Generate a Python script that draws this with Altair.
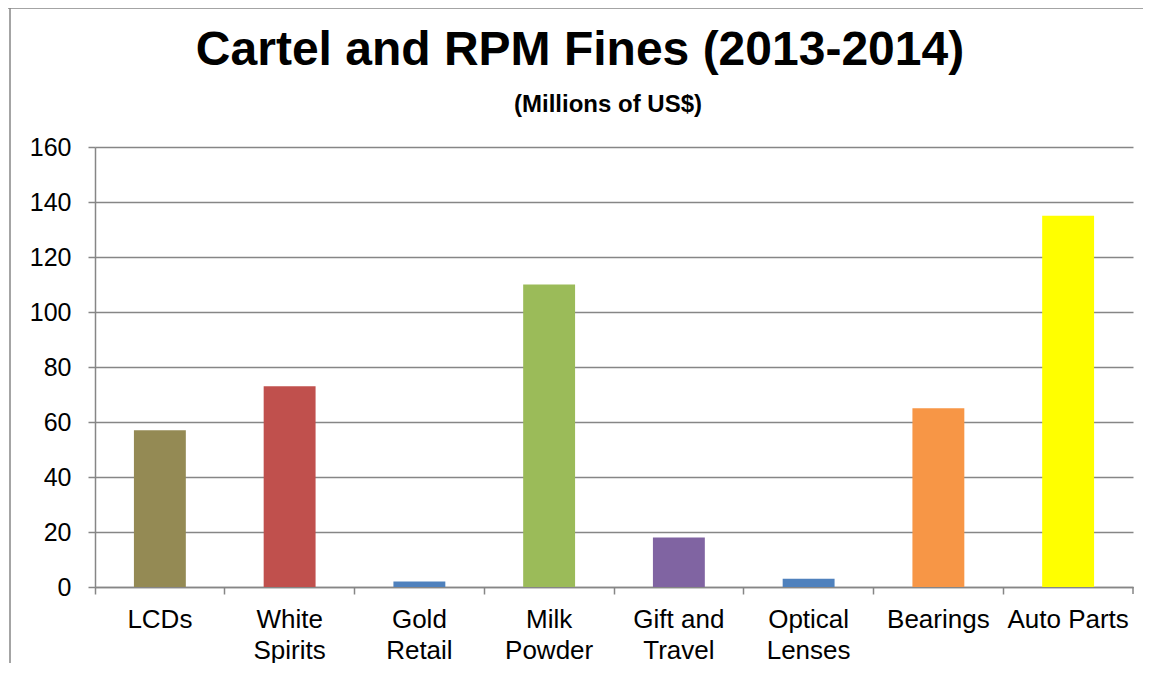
import altair as alt
import pandas as pd

title_text = "Cartel and RPM Fines (2013-2014)"
subtitle_text = "(Millions of US$)"
categories = ["LCDs", "White\nSpirits", "Gold\nRetail", "Milk\nPowder",
              "Gift and\nTravel", "Optical\nLenses", "Bearings", "Auto Parts"]
fines = [57, 73, 2, 110, 18, 3, 65, 135]
colors = ["#948A54", "#C0504D", "#4F81BD", "#9BBB59",
          "#8064A2", "#4F81BD", "#F79646", "#FFFF00"]
y_ticks = [0, 20, 40, 60, 80, 100, 120, 140, 160]

df = pd.DataFrame({"category": categories, "fine": fines})

W, H = 1038, 440
GRAY = "#868686"
FONT = "Liberation Sans"

bars = alt.Chart(df).mark_bar(width=alt.RelativeBandSize(0.4)).encode(
    x=alt.X("category:N", sort=categories,
            scale=alt.Scale(paddingInner=0, paddingOuter=0),
            axis=alt.Axis(title=None, labelAngle=0, bandPosition=0,
                          labelExpr="split(datum.label, '\\n')",
                          labelFontSize=26, labelFont=FONT, labelColor="#000",
                          labelLineHeight=31, labelPadding=12,
                          tickSize=7, tickColor=GRAY, tickWidth=1.5,
                          domainColor=GRAY, domainWidth=1.5, grid=False)),
    y=alt.Y("fine:Q", scale=alt.Scale(domain=[0, 160], nice=False),
            axis=alt.Axis(title=None, values=y_ticks, labelFontSize=25,
                          labelFont=FONT, labelColor="#000", labelPadding=17,
                          tickSize=7, tickColor=GRAY, tickWidth=1.5,
                          domainColor=GRAY, domainWidth=1.5,
                          gridColor=GRAY, gridWidth=1.5)),
    color=alt.Color("category:N", sort=categories,
                    scale=alt.Scale(domain=categories, range=colors),
                    legend=None),
)

one = alt.Data(values=[{"title": title_text, "subtitle": subtitle_text}])
end_tick = alt.Chart(one).mark_rule(color=GRAY, strokeWidth=1.5).encode(
    x=alt.value(W), y=alt.value(H), y2=alt.value(H + 7))
frame_left = alt.Chart(one).mark_rule(color=GRAY, strokeWidth=1.5).encode(
    x=alt.value(-85), y=alt.value(-139), y2=alt.value(540))
frame_top = alt.Chart(one).mark_rule(color=GRAY, strokeWidth=1.5).encode(
    x=alt.value(-92), x2=alt.value(1070), y=alt.value(-139))
title = alt.Chart(one).mark_text(
    font=FONT, fontSize=48, fontWeight="bold", color="#000",
    align="center", baseline="alphabetic").encode(
    text="title:N", x=alt.value(485), y=alt.value(-82))
subtitle = alt.Chart(one).mark_text(
    font=FONT, fontSize=24, fontWeight="bold", color="#000",
    align="center", baseline="alphabetic").encode(
    text="subtitle:N", x=alt.value(513), y=alt.value(-35))

chart = alt.layer(bars, end_tick, frame_left, frame_top, title, subtitle).properties(
    width=W, height=H,
    autosize=alt.AutoSizeParams(type="none"),
    padding={"left": 87, "top": 139, "right": 10, "bottom": 76},
).configure_view(stroke=None)

chart.save("out.html", embed_options={"renderer": "svg", "actions": False})
